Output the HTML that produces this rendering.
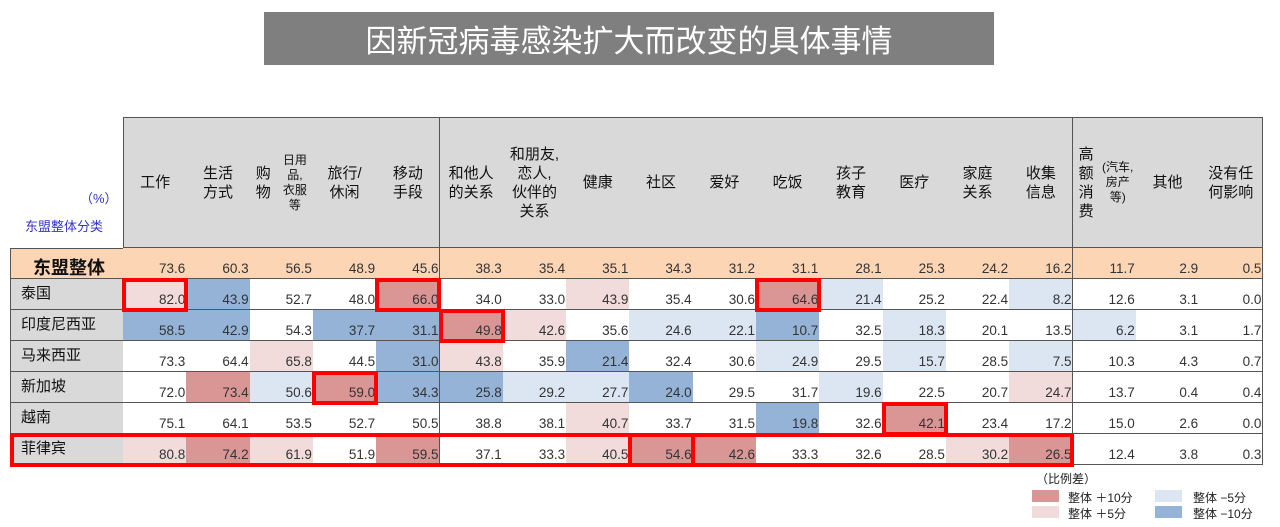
<!DOCTYPE html>
<html><head><meta charset="utf-8"><style>
body{margin:0;width:1280px;height:527px;background:#fff;position:relative;overflow:hidden;font-family:"Liberation Sans","Noto Sans CJK SC",sans-serif}
.a{position:absolute;box-sizing:border-box}
.cell{border-right:1px solid #555;border-bottom:1px solid #555;font-size:13.5px;color:#333;text-align:right;padding-right:1px;display:flex;align-items:flex-end;justify-content:flex-end;padding-bottom:2px}
.hd{background:#d9d9d9;border-right:1px solid #555;border-bottom:1px solid #555;font-size:15px;color:#111;display:flex;align-items:center;justify-content:center;text-align:center;line-height:19px}
.hd small{font-size:12px;line-height:15px}
.lab{background:#d9d9d9;border-bottom:1px solid #555;border-left:1px solid #555;border-right:1px solid #555;font-size:15px;color:#111;padding-left:10px;padding-top:3px}
.box{border:4px solid #f00}
.leg{font-size:12px;color:#222}
</style></head><body>
<div class="a" style="left:264px;top:12px;width:730px;height:53px;background:#7f7f7f;color:#fff;font-size:31px;display:flex;align-items:center;justify-content:center">因新冠病毒感染扩大而改变的具体事情</div>
<div class="a" style="left:80px;top:188px;font-size:13px;color:#3333cc">（%）</div>
<div class="a" style="left:25px;top:216px;font-size:13px;color:#3333cc">东盟整体分类</div>
<div id="tbl"></div>
<div class="a leg" style="left:1036px;top:470px">（比例差）</div>
<div class="a" style="left:1032px;top:490px;width:27px;height:12px;background:#d99694"></div>
<div class="a leg" style="left:1068px;top:489px">整体 ＋10分</div>
<div class="a" style="left:1032px;top:506px;width:27px;height:12px;background:#f2dcdb"></div>
<div class="a leg" style="left:1068px;top:505px">整体 ＋5分</div>
<div class="a" style="left:1155px;top:490px;width:27px;height:12px;background:#dce6f2"></div>
<div class="a leg" style="left:1193px;top:489px">整体 −5分</div>
<div class="a" style="left:1155px;top:506px;width:27px;height:12px;background:#95b3d7"></div>
<div class="a leg" style="left:1193px;top:505px">整体 −10分</div>
<script>
const categories=["工作","生活<br>方式","购物<br><small>日用品,<br>衣服等</small>","旅行/<br>休闲","移动<br>手段","和他人<br>的关系","和朋友,<br>恋人,<br>伙伴的<br>关系","健康","社区","爱好","吃饭","孩子<br>教育","医疗","家庭<br>关系","收集<br>信息","高额<br>消费<br><small>(汽车,<br>房产等)</small>","其他","没有任<br>何影响"];
const rowLabels=["东盟整体","泰国","印度尼西亚","马来西亚","新加坡","越南","菲律宾"];
const aseanValues=[73.6,60.3,56.5,48.9,45.6,38.3,35.4,35.1,34.3,31.2,31.1,28.1,25.3,24.2,16.2,11.7,2.9,0.5];
const thailandValues=[82.0,43.9,52.7,48.0,66.0,34.0,33.0,43.9,35.4,30.6,64.6,21.4,25.2,22.4,8.2,12.6,3.1,0.0];
const indonesiaValues=[58.5,42.9,54.3,37.7,31.1,49.8,42.6,35.6,24.6,22.1,10.7,32.5,18.3,20.1,13.5,6.2,3.1,1.7];
const malaysiaValues=[73.3,64.4,65.8,44.5,31.0,43.8,35.9,21.4,32.4,30.6,24.9,29.5,15.7,28.5,7.5,10.3,4.3,0.7];
const singaporeValues=[72.0,73.4,50.6,59.0,34.3,25.8,29.2,27.7,24.0,29.5,31.7,19.6,22.5,20.7,24.7,13.7,0.4,0.4];
const vietnamValues=[75.1,64.1,53.5,52.7,50.5,38.8,38.1,40.7,33.7,31.5,19.8,32.6,42.1,23.4,17.2,15.0,2.6,0.0];
const philippinesValues=[80.8,74.2,61.9,51.9,59.5,37.1,33.3,40.5,54.6,42.6,33.3,32.6,28.5,30.2,26.5,12.4,3.8,0.3];
const countryRows=[thailandValues,indonesiaValues,malaysiaValues,singaporeValues,vietnamValues,philippinesValues];
const highlights=[[0,0],[0,4],[0,10],[1,5],[3,3],[4,12],[5,8]];
const X0=123,CW=63.3,HY=117,HH=131,RH=31;
const colX=i=>X0+i*CW, rowY=r=>HY+HH+r*RH;
const t=document.getElementById('tbl');
function add(cls,name,x,y,w,h,html,bg){const d=document.createElement('div');d.className='a '+cls;


d.style.cssText=`left:${x}px;top:${y}px;width:${w}px;height:${h}px;`+(bg?`background:${bg};`:'');d.innerHTML=html;t.appendChild(d);return d;}
function color(v,b){const d=v-b;return d>=10?'#d99694':d>=5?'#f2dcdb':d<=-10?'#95b3d7':d<=-5?'#dce6f2':'#fff';}
categories.forEach((c,i)=>{const d=add('hd','column-header',colX(i),HY,CW+1,HH,c);if(i==0)d.style.borderLeft='1px solid #555';d.style.borderTop='1px solid #555';});
rowLabels.forEach((l,r)=>{const d=add('lab','row-label',10,rowY(r),X0-10+1,RH,l,r==0?'#fcd5b4':null);if(r==0){d.style.fontSize='18px';d.style.fontWeight='bold';d.style.paddingLeft='22px';d.style.paddingTop='5px';d.style.borderTop='1px solid #555';}});
aseanValues.forEach((v,i)=>add('cell','asean-cell',colX(i),rowY(0),CW+1,RH,v.toFixed(1),'#fcd5b4'));
countryRows.forEach((row,r)=>row.forEach((v,i)=>add('cell','heat-cell',colX(i),rowY(r+1),CW+1,RH,v.toFixed(1),color(v,aseanValues[i]))));
highlights.forEach(([r,c])=>add('box','highlight-box',colX(c)-1,rowY(r+1)-1,CW+3,RH+3,''));
add('box','philippines-highlight',10,rowY(6)-1,colX(15)-10+1,RH+3,'');
</script>
</body></html>
